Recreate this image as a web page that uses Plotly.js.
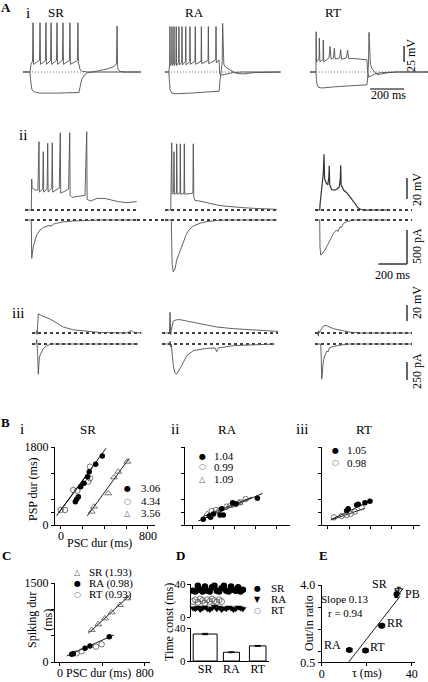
<!DOCTYPE html>
<html><head><meta charset="utf-8">
<script src="https://cdn.plot.ly/plotly-3.0.1.min.js"></script>
<style>html,body{margin:0;padding:0;background:#fff;}#chart{width:428px;height:682px;}</style>
</head><body><div id="chart"></div>
<script>
// ================= DATA =================
// A-i : current-clamp step responses (time ms, membrane potential mV relative to rest)
const AI_SR_dep_t = [0,41,47,56,59,62,97,100,103,132,135,138,162,165,168,197,200,203,232,235,238,273,276,279,320,323,326,329,335,350,380,694];
const AI_SR_dep_v = [0,0,12,17,77,12,18,77,12,18,77,12,18,77,12,18,77,12,18,77,12,18,77,12,18,77,12,12,4,1,0,0];
const AI_SR_hyp_t = [0,41,44,47,53,65,100,200,329,335,345,360,380,410,450,500,530,545,550,553,556,560,570,600,694];
const AI_SR_hyp_v = [0,0,-12,-22,-28,-31,-33,-33,-32,-24,-12,-5,-1,0,2,5,8,11,14,72,10,4,1,0,0];
const AI_RA_dep_t = [0,23,27,29,31,39,41,43,51,53,55,64,66,68,80,82,84,98,100,102,120,122,124,145,147,149,176,178,180,212,214,216,253,255,257,298,300,302,318,322,330,345,370,400,450,680];
const AI_RA_dep_v = [0,0,12,71,10,14,71,10,14,71,10,15,71,10,15,71,11,15,71,11,16,71,11,16,71,12,17,71,12,17,71,13,18,71,13,19,71,14,19,-3,-5,-4,-2,-1,0,0];
const AI_RA_hyp_t = [0,23,26,30,40,60,150,250,318,324,332,336,339,342,346,355,370,390,420,460,520,600,680];
const AI_RA_hyp_v = [0,0,-15,-28,-33,-34,-33,-31,-30,-12,8,14,76,16,12,8,5,2,-2,-3,-1,0,0];
const AI_RT_dep_t = [0,35,36,38,42,53,55,58,76,78,81,112,118,124,138,143,148,174,180,186,214,221,228,260,300,335,338,345,360,380,420,500,694];
const AI_RT_dep_v = [0,0,63,15,18,20,53,16,19,50,16,22,40,20,22,37,20,22,35,20,22,34,21,21,20,19,2,-8,-6,-3,-1,0,0];
const AI_RT_hyp_t = [0,35,38,42,50,70,150,250,335,340,344,347,350,355,365,380,395,420,460,520,694];
const AI_RT_hyp_v = [0,0,-12,-20,-24,-25,-23,-21,-20,-5,15,62,25,12,5,0,-4,-3,-1,0,0];

// A-ii : synaptic responses (voltage mV, current pA)
const AII_SR_v_t = [0,44,47,50,70,90,98,101,124,128,131,155,159,162,187,191,194,240,247,250,280,305,313,316,330,380,420,432,435,460,502,560,600,650,712,760,782];
const AII_SR_v = [0,0,29.5,21,19,19,65,17,20,55.5,17,20,63.5,17,21,64,17,21,73.6,16,18,20,73.6,14,12,13,14,74.5,10,8.5,11,11,9.5,8,7,7.5,8];
const AII_SR_i_t = [0,44,47,50,58,82,105,130,152,175,180,200,222,260,338,420,525,782];
const AII_SR_i = [0,0,-563,-520,-392,-220,-147,-110,-88,-75,-95,-60,-49,-30,-15,-8,0,0];
const AII_RA_v_t = [0,40,42,47,50,60,63,66,80,82,85,105,107,110,133,135,138,195,198,202,210,245,300,362,420,478,550,618,700,782];
const AII_RA_v = [0,0,16.5,64,15,16.5,55.5,15,16,63,15,16,63,15,16,63,15,16,63,12,9,8.5,6.5,4.8,3.7,2.8,2.2,1.6,1,0.6];
const AII_RA_i_t = [0,44,47,50,58,70,82,100,117,135,152,175,198,250,292,360,432,782];
const AII_RA_i = [0,0,-300,-650,-760,-720,-588,-480,-392,-290,-196,-130,-88,-45,-24,-8,0,0];
const AII_RT_v_t = [0,33,35,45,54,58,63,67,77,90,97,100,103,117,135,152,170,177,180,183,200,210,222,245,268,285,303,320,338,400,513];
const AII_RT_v = [0,0,5,18,26,35,53,30,26,24,32,42,24,19.5,19,19.5,22,30,42.6,24,19,18,16.5,12.5,8.5,4.5,1.8,0.5,0,0,0];
const AII_RT_i_t = [0,33,35,40,50,70,90,105,128,140,152,160,175,185,200,222,268,513];
const AII_RT_i = [0,0,-400,-515,-500,-441,-360,-294,-200,-170,-147,-170,-100,-110,-50,-24,0,0];

// A-iii : subthreshold synaptic responses
const AIII_SR_v_t = [0,30,33,36,40,44,68,126,173,219,289,383,476,663,690,698,710,733,768];
const AIII_SR_v = [0,0,3,-2,12,24,21.6,17.5,12.5,7.5,4,2,0.6,0,2,3,1,0.5,0];
const AIII_SR_i_t = [0,30,33,36,40,44,47,51,56,79,103,140,742];
const AIII_SR_i = [0,0,60,-20,-150,-420,-300,-200,-158,-65,-23,0,0];
const AIII_RA_v_t = [0,52,56,59,61,66,72,79,100,126,173,266,383,499,686,814];
const AIII_RA_v = [0,0,26,3,-2,5,12,15,16.5,16.7,15,11.7,7.5,5.4,3.3,2];
const AIII_RA_i_t = [0,52,56,59,65,72,79,90,103,138,173,219,313,371,383,394,499,791];
const AIII_RA_i = [0,0,40,-40,0,-150,-300,-400,-417,-301,-162,-93,-60,-55,-107,-55,-23,0];
const AIII_RT_v_t = [0,20,23,26,30,40,55,70,90,128,198,245,315,679];
const AIII_RT_v = [0,0,-4,3,0,4,8,9.6,8.5,5.4,2.5,1,0,0];
const AIII_RT_i_t = [0,40,44,47,51,56,65,79,85,91,103,128,175,245,679];
const AIII_RT_i = [0,0,-200,-487,-420,-278,-180,-117,-95,-110,-50,-35,-15,0,0];

// B : PSP duration vs PSC duration (ms)
const B_SR_fill_x = [380,319,260,245,211,181,160,144,132];
const B_SR_fill_y = [1592,1400,1230,1115,962,885,654,592,538];
const B_SR_open_x = [-3,37,113,150,251,267,267];
const B_SR_open_y = [346,346,808,792,1000,1077,1346];
const B_SR_tri_x = [282,303,435,487,527,610];
const B_SR_tri_y = [308,423,731,1100,1230,1461];
const B_SR_fit_fill_x = [-40,414], B_SR_fit_fill_y = [215,1770];
const B_SR_fit_open_x = [-20,290], B_SR_fit_open_y = [280,1330];
const B_SR_fit_tri_x = [242,628], B_SR_fit_tri_y = [208,1540];
const B_SR_slopes = ['3.06','4.34','3.56'];

const B_RA_fill_x = [98,155,168,194,273,257,289,378,410,613];
const B_RA_fill_y = [131,208,177,254,377,231,231,515,485,615];
const B_RA_open_x = [178,219,321,400,448,502];
const B_RA_open_y = [323,346,423,485,523,600];
const B_RA_tri_x = [136,241,346,441];
const B_RA_tri_y = [254,331,438,515];
const B_RA_fit_fill_x = [50,664], B_RA_fit_fill_y = [92,731];
const B_RA_fit_open_x = [100,560], B_RA_fit_open_y = [200,640];
const B_RA_slopes = ['1.04','0.99','1.09'];

const B_RT_fill_x = [176,191,270,285,348,395];
const B_RT_fill_y = [331,377,462,477,515,546];
const B_RT_open_x = [57,129,176,213,254,317];
const B_RT_open_y = [177,208,231,254,308,408];
const B_RT_fit_fill_x = [35,419], B_RT_fit_fill_y = [131,577];
const B_RT_fit_open_x = [26,348], B_RT_fit_open_y = [115,385];
const B_RT_slopes = ['1.05','0.98'];

// C : spiking duration vs PSC duration
const C_SR_x = [299,361,425,488,566,635], C_SR_y = [608,716,829,943,1082,1209];
const C_RA_x = [110,126,236,283,465], C_RA_y = [146,158,260,304,481];
const C_RT_x = [157,204,340,393], C_RT_y = [165,203,291,336];
const C_fit_SR_x = [267,654], C_fit_SR_y = [545,1259];
const C_fit_RA_x = [63,509], C_fit_RA_y = [114,513];
const C_legend = ['SR (1.93)','RA (0.98)','RT (0.93)'];

// D : time constants (ms) per cell, and means
const D_SR_tau = [32,31,38,33,31,37,32,31,36,38,32,31,35,38,32,31,37,33,32,36,31,33];
const D_RA_tau = [11,10,12,9,11,12,10,9,11,13,10,12,9,11,10,12,11,9,10,12,11,10];
const D_RT_tau = [19,21,18,22,20,17,21,19,22,20,18,21,19];
const D_cats = ['SR','RA','RT'];
const D_mean = [32.7,10.6,18.3];
const D_sem = [0.8,0.5,0.5];

// E : output/input ratio vs tau
const E_labels = ['RA','RT','RR','SR','PB'];
const E_tau = [12.3,19.5,26.7,33.3,34.3];
const E_ratio = [1.06,1.03,2.16,3.58,3.75];
const E_tau_err = [1.2,1.2,1.3,0.8,0.8];
const E_ratio_err = [0.07,0.07,0.1,0.15,0.15];
const E_fit_x = [11.9,34.8], E_fit_y = [0.5,3.48];

// ================= LAYOUT HELPERS =================
const W = 428, H = 682;
const FONT = 'Liberation Serif, Times New Roman, serif';
const layout = {width:W, height:H, margin:{l:0,r:0,t:0,b:0}, paper_bgcolor:'#fff', plot_bgcolor:'rgba(0,0,0,0)',
  showlegend:false, font:{family:FONT, size:12, color:'#000'}, annotations:[], shapes:[]};
const data = [];
let axN = 0;
function addAxes(xpx, ypx, xr, yr, xo, yo) {
  axN++;
  const xk = axN === 1 ? 'xaxis' : 'xaxis' + axN, yk = axN === 1 ? 'yaxis' : 'yaxis' + axN;
  const xid = axN === 1 ? 'x' : 'x' + axN, yid = axN === 1 ? 'y' : 'y' + axN;
  const base = {showgrid:false, zeroline:false, showline:false, showticklabels:false, ticks:'', fixedrange:true};
  layout[xk] = Object.assign({}, base, {domain:[xpx[0]/W, xpx[1]/W], range:xr, anchor:yid}, xo || {});
  layout[yk] = Object.assign({}, base, {domain:[1 - ypx[1]/H, 1 - ypx[0]/H], range:yr, anchor:xid}, yo || {});
  return {x:xid, y:yid};
}
function lineTr(ax, x, y, line) {
  data.push({type:'scatter', mode:'lines', x:x, y:y, xaxis:ax.x, yaxis:ax.y, hoverinfo:'skip',
    line:Object.assign({color:'#505050', width:0.9}, line || {})});
}
function ptsTr(ax, x, y, marker) {
  data.push({type:'scatter', mode:'markers', x:x, y:y, xaxis:ax.x, yaxis:ax.y, hoverinfo:'skip', cliponaxis:false, marker:marker});
}
function baseline(ax, t1, style) {
  lineTr(ax, [0, t1], [0, 0], style);
}
function ann(text, px, py, o) {
  o = o || {};
  const a = {text:text, x:px/W, y:1 - py/H, xref:'paper', yref:'paper', showarrow:false,
    xanchor:o.xanchor || 'center', yanchor:'middle', font:Object.assign({family:FONT, size:13, color:'#000'}, o.font || {})};
  if (o.textangle !== undefined) a.textangle = o.textangle;
  layout.annotations.push(a);
}
function bar(ax, x0, y0, x1, y1) {
  layout.shapes.push({type:'line', xref:ax.x, yref:ax.y, x0:x0, y0:y0, x1:x1, y1:y1, line:{color:'#000', width:1.2}});
}
const DOT = {color:'#777', width:1, dash:'1px,2px'};
const DASH = {color:'#000', width:1.6, dash:'3px,3px'};

// ================= PANEL A =================
const msA1 = 5.88, mvA1 = 1.5625;
const yrA1 = [-26*mvA1, 54*mvA1];
const a1 = [addAxes([23,141],[18,98],[0,118*msA1],yrA1),
            addAxes([165,283],[18,98],[0,118*msA1],yrA1),
            addAxes([310,428],[18,98],[0,118*msA1],yrA1)];
baseline(a1[0], 688, DOT); baseline(a1[1], 676, DOT); baseline(a1[2], 694, DOT);
lineTr(a1[0], AI_SR_hyp_t, AI_SR_hyp_v); lineTr(a1[0], AI_SR_dep_t, AI_SR_dep_v);
lineTr(a1[1], AI_RA_hyp_t, AI_RA_hyp_v); lineTr(a1[1], AI_RA_dep_t, AI_RA_dep_v);
lineTr(a1[2], AI_RT_hyp_t, AI_RT_hyp_v); lineTr(a1[2], AI_RT_dep_t, AI_RT_dep_v);
bar(a1[2], 553, 15.6, 553, 40.6); bar(a1[2], 353, -26.6, 553, -26.6);

const ms2 = 7.0;
const yrV2 = [-5*0.952, 85*0.952], yrI2 = [-62*14.7, 5*14.7];
const xs2 = [[25,138],[165,278],[315,428]];
const a2v = xs2.map(p => addAxes(p, [125,215], [0,(p[1]-p[0])*ms2], yrV2));
const a2i = xs2.map(p => addAxes(p, [215,282], [0,(p[1]-p[0])*ms2], yrI2));
baseline(a2v[0], 784, DASH); baseline(a2v[1], 784, DASH); baseline(a2v[2], 679, DASH);
baseline(a2i[0], 784, DASH); baseline(a2i[1], 784, DASH); baseline(a2i[2], 679, DASH);
layout.shapes.push({type:'line', xref:'paper', yref:'paper', x0:137/W, x1:165/W, y0:1-220/H, y1:1-220/H, line:DASH});
lineTr(a2v[0], AII_SR_v_t, AII_SR_v); lineTr(a2i[0], AII_SR_i_t, AII_SR_i);
lineTr(a2v[1], AII_RA_v_t, AII_RA_v); lineTr(a2i[1], AII_RA_i_t, AII_RA_i);
lineTr(a2v[2], AII_RT_v_t, AII_RT_v, {color:'#333', width:1.2}); lineTr(a2i[2], AII_RT_i_t, AII_RT_i);
bar(a2v[2], 644, 10.5, 644, 30.5);
bar(a2i[2], 644, -147, 644, -647); bar(a2i[2], 444, -647, 644, -647);

const yrV3 = [-5*1.25, 35*1.25], yrI3 = [-44*13.9, 6*13.9];
const xs3 = [[32,145],[162,280],[315,428]];
const a3v = xs3.map(p => addAxes(p, [298,338], [0,(p[1]-p[0])*ms2], yrV3));
const a3i = xs3.map(p => addAxes(p, [338,388], [0,(p[1]-p[0])*ms2], yrI3));
baseline(a3v[0], 763, DASH); baseline(a3v[1], 812, DASH); baseline(a3v[2], 679, DASH);
baseline(a3i[0], 742, DASH); baseline(a3i[1], 791, DASH); baseline(a3i[2], 679, DASH);
lineTr(a3v[0], AIII_SR_v_t, AIII_SR_v); lineTr(a3i[0], AIII_SR_i_t, AIII_SR_i);
lineTr(a3v[1], AIII_RA_v_t, AIII_RA_v); lineTr(a3i[1], AIII_RA_i_t, AIII_RA_i);
lineTr(a3v[2], AIII_RT_v_t, AIII_RT_v); lineTr(a3i[2], AIII_RT_i_t, AIII_RT_i);
bar(a3v[2], 644, 15, 644, 35);
bar(a3i[2], 644, -250, 644, -500);

ann('<b>A</b>', 6, 8, {font:{size:13}});
ann('i', 28, 13, {font:{size:15}}); ann('SR', 56, 13); ann('RA', 194, 13); ann('RT', 333, 13);
ann('ii', 23, 135, {font:{size:15}}); ann('iii', 18, 313, {font:{size:15}});
ann('25 mV', 411, 56, {textangle:-90, font:{size:12}});
ann('200 ms', 388, 95, {font:{size:12}});
ann('20 mV', 417, 190, {textangle:-90, font:{size:12}});
ann('500 pA', 417, 246, {textangle:-90, font:{size:12}});
ann('200 ms', 392, 275, {font:{size:12}});
ann('20 mV', 417, 303, {textangle:-90, font:{size:12}});
ann('250 pA', 417, 371, {textangle:-90, font:{size:12}});

// ================= PANEL B =================
const axLine = {showline:true, linecolor:'#000', linewidth:1, ticks:'outside', ticklen:3, tickwidth:1, tickcolor:'#000',
  showticklabels:true, tickmode:'array', tickfont:{family:FONT, size:12, color:'#000'}};
const axLineX = Object.assign({}, axLine, {ticklabelstandoff:-3});
const bX = lab => Object.assign({}, axLineX, {tickvals:[0,200,400,600,800], ticktext: lab ? ['0','','','','800'] : ['','','','','']});
const bY = lab => Object.assign({}, axLine, {tickvals:[0,300,600,1200,1800], ticktext: lab ? ['0','','','','1800'] : ['','','','','']});
const b1 = addAxes([55,155],[447,525],[-55,865],[0,1800], bX(true), bY(true));
const b2 = addAxes([185,290],[447,525],[-76,924],[0,1800], bX(false), bY(false));
const b3 = addAxes([322,420],[447,525],[-55,865],[0,1800], bX(false), bY(false));
const FILL = {symbol:'circle', size:5.5, color:'#000'};
const OPEN = {symbol:'circle-open', size:5.5, color:'#555', line:{width:0.8}};
const TRI = {symbol:'triangle-up-open', size:6, color:'#555', line:{width:0.8}};
const FIT = {color:'#000', width:0.9};
lineTr(b1, B_SR_fit_fill_x, B_SR_fit_fill_y, FIT); lineTr(b1, B_SR_fit_open_x, B_SR_fit_open_y, FIT); lineTr(b1, B_SR_fit_tri_x, B_SR_fit_tri_y, FIT);
ptsTr(b1, B_SR_open_x, B_SR_open_y, OPEN); ptsTr(b1, B_SR_tri_x, B_SR_tri_y, TRI); ptsTr(b1, B_SR_fill_x, B_SR_fill_y, FILL);
lineTr(b2, B_RA_fit_fill_x, B_RA_fit_fill_y, FIT); lineTr(b2, B_RA_fit_open_x, B_RA_fit_open_y, FIT);
ptsTr(b2, B_RA_open_x, B_RA_open_y, OPEN); ptsTr(b2, B_RA_tri_x, B_RA_tri_y, TRI); ptsTr(b2, B_RA_fill_x, B_RA_fill_y, FILL);
lineTr(b3, B_RT_fit_fill_x, B_RT_fit_fill_y, FIT); lineTr(b3, B_RT_fit_open_x, B_RT_fit_open_y, FIT);
ptsTr(b3, B_RT_open_x, B_RT_open_y, OPEN); ptsTr(b3, B_RT_fill_x, B_RT_fill_y, FILL);

const SYM = {family:'DejaVu Sans', size:8, color:'#000'};
const SYMG = {family:'DejaVu Sans', size:8, color:'#555'};
function legendRows(xs, xt, ys, syms, texts) {
  ys.forEach((y, k) => {
    ann(syms[k], xs, y, {font: syms[k] === '●' || syms[k] === '▼' ? SYM : SYMG});
    ann(texts[k], xt, y, {xanchor:'left', font:{size:11}});
  });
}
legendRows(128, 139, [488,501,513], ['●','○','△'], B_SR_slopes);
legendRows(202, 212, [456,467,479], ['●','○','△'], B_RA_slopes);
legendRows(335, 345, [450,463], ['●','○'], B_RT_slopes);
ann('<b>B</b>', 5, 422, {font:{size:13}});
ann('i', 22, 429, {font:{size:15}}); ann('SR', 88, 429);
ann('ii', 175, 429, {font:{size:15}}); ann('RA', 228, 429);
ann('iii', 302, 429, {font:{size:15}}); ann('RT', 364, 429);
ann('PSP dur (ms)', 33, 489, {textangle:-90, font:{size:12}});
ann('PSC dur (ms)', 99, 543, {font:{size:12}});

// ================= PANEL C =================
const c1 = addAxes([55,150],[583,662],[-47,849],[0,1500],
  Object.assign({}, axLineX, {tickvals:[0,400,800], ticktext:['0','','800']}),
  Object.assign({}, axLine, {tickvals:[0,500,1000,1500], ticktext:['0','','','1500']}));
lineTr(c1, C_fit_SR_x, C_fit_SR_y, FIT); lineTr(c1, C_fit_RA_x, C_fit_RA_y, FIT);
ptsTr(c1, C_SR_x, C_SR_y, TRI); ptsTr(c1, C_RT_x, C_RT_y, OPEN); ptsTr(c1, C_RA_x, C_RA_y, FILL);
legendRows(77, 87, [572,583,594], ['△','●','○'], C_legend);
ann('<b>C</b>', 6, 555, {font:{size:13}});
ann('Spiking dur<br>(ms)', 40, 620, {textangle:-90, font:{size:12}});
ann('PSC dur (ms)', 98, 673, {font:{size:12}});

// ================= PANEL D =================
const idx = arr => arr.map((_, k) => k + 1);
const dY = Object.assign({}, axLine, {tickvals:[0,40], ticktext:['0','40'], tickfont:{family:FONT, size:11, color:'#000'}, ticklabelstandoff:-1});
const dTop = addAxes([190.7,269],[584,617.3],[0,33],[0,40], {}, dY);
ptsTr(dTop, idx(D_SR_tau), D_SR_tau, {symbol:'circle', size:6.5, color:'#000'});
ptsTr(dTop, idx(D_RT_tau), D_RT_tau, {symbol:'circle-open', size:6, color:'#555', line:{width:0.8}});
ptsTr(dTop, idx(D_RA_tau), D_RA_tau, {symbol:'triangle-down', size:6.5, color:'#000'});
const dBot = addAxes([190.7,269],[628,661],[-0.55,2.43],[0,40],
  Object.assign({}, axLineX, {ticks:'', tickvals:[0,1,2], ticktext:D_cats}), dY);
data.push({type:'bar', x:[0,1,2], y:D_mean, width:[0.91,0.61,0.63], xaxis:dBot.x, yaxis:dBot.y, hoverinfo:'skip',
  marker:{color:'#fff', line:{color:'#000', width:1}},
  error_y:{type:'data', array:D_sem, color:'#000', thickness:1, width:3}});
legendRows(257, 269, [588,599,610], ['●','▼','○'], D_cats);
ann('<b>D</b>', 180, 555, {font:{size:13}});
ann('Time const (ms)', 169, 622, {textangle:-90, font:{size:12}});

// ================= PANEL E =================
const e1 = addAxes([321.7,415],[585,662.3],[0,41.5],[0.5,4.0],
  Object.assign({}, axLineX, {tickvals:[0,20,40], ticktext:['0','','40']}),
  Object.assign({}, axLine, {tickvals:[0.5,1,2,3,4], ticktext:['0.5','','','','4.0']}));
lineTr(e1, E_fit_x, E_fit_y, FIT);
data.push({type:'scatter', mode:'markers', x:E_tau.slice(0,4), y:E_ratio.slice(0,4), xaxis:e1.x, yaxis:e1.y, hoverinfo:'skip',
  marker:{symbol:'circle', size:6, color:'#000'},
  error_x:{type:'data', array:E_tau_err.slice(0,4), color:'#000', thickness:1, width:2},
  error_y:{type:'data', array:E_ratio_err.slice(0,4), color:'#000', thickness:1, width:2}});
data.push({type:'scatter', mode:'markers', x:E_tau.slice(4), y:E_ratio.slice(4), xaxis:e1.x, yaxis:e1.y, hoverinfo:'skip',
  marker:{symbol:'triangle-down-open', size:7, color:'#000', line:{width:1}},
  error_y:{type:'data', array:E_ratio_err.slice(4), color:'#000', thickness:1, width:2}});
const E_shift = [[-17,5],[12,4],[13,3],[-17,10],[14,-3]];
E_labels.forEach((lab, k) => {
  layout.annotations.push({text:lab, x:E_tau[k], y:E_ratio[k], xref:e1.x, yref:e1.y, showarrow:false,
    xshift:E_shift[k][0], yshift:E_shift[k][1], font:{family:FONT, size:12, color:'#000'}});
});
ann('<b>E</b>', 323, 555, {font:{size:13}});
ann('Slope 0.13', 345, 599, {font:{size:11}});
ann('r = 0.94', 345, 613, {font:{size:11}});
ann('Out/in ratio', 309, 623, {textangle:-90, font:{size:12}});
ann('τ (ms)', 367, 673, {font:{size:12}});

Plotly.newPlot('chart', data, layout, {staticPlot:true});
</script></body></html>
